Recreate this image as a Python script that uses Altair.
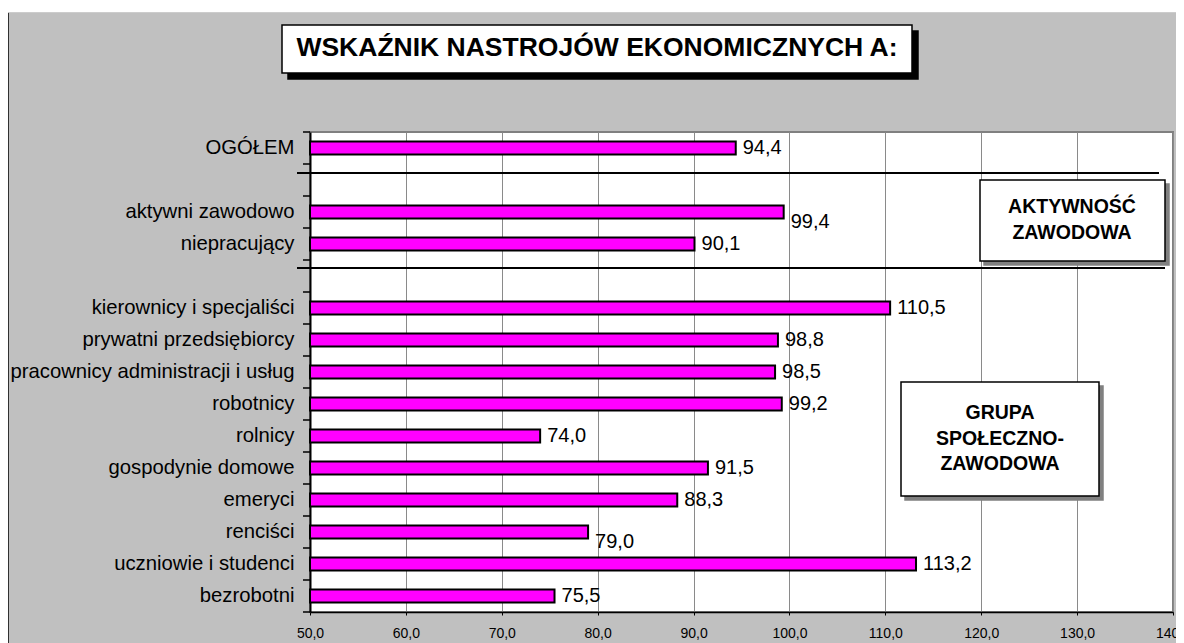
import altair as alt
import pandas as pd

# ---- data ----
categories = ["OGÓŁEM", "aktywni zawodowo", "niepracujący",
              "kierownicy i specjaliści", "prywatni przedsiębiorcy",
              "pracownicy administracji i usług", "robotnicy", "rolnicy",
              "gospodynie domowe", "emeryci", "renciści",
              "uczniowie i studenci", "bezrobotni"]
values = [94.4, 99.4, 90.1, 110.5, 98.8, 98.5, 99.2, 74.0, 91.5, 88.3, 79.0, 113.2, 75.5]
axis_order = ["OGÓŁEM", " ", "aktywni zawodowo", "niepracujący", "  ",
              "kierownicy i specjaliści", "prywatni przedsiębiorcy",
              "pracownicy administracji i usług", "robotnicy", "rolnicy",
              "gospodynie domowe", "emeryci", "renciści",
              "uczniowie i studenci", "bezrobotni"]
shifted = ["aktywni zawodowo", "renciści"]
x_ticks = [50, 60, 70, 80, 90, 100, 110, 120, 130, 140]
title_text = "WSKAŹNIK NASTROJÓW EKONOMICZNYCH A:"
box1_lines = ["AKTYWNOŚĆ", "ZAWODOWA"]
box2_lines = ["GRUPA", "SPOŁECZNO-", "ZAWODOWA"]

FONT = "Liberation Sans"
W, H = 863, 480
STEP = H / len(axis_order)

df = pd.DataFrame({
    "kat": categories,
    "wart": values,
    "etykieta": [f"{v:.1f}".replace(".", ",") for v in values],
})
df["przes"] = df["kat"].isin(shifted)

xs = alt.X("wart:Q", scale=alt.Scale(domain=[50, 140], nice=False, zero=False),
           axis=alt.Axis(values=x_ticks, grid=True, gridColor="#8a8a8a", gridWidth=1,
                         domainColor="black", domainWidth=1.5, tickColor="black",
                         tickSize=3, labelFontSize=14, labelFont=FONT, labelColor="black",
                         labelPadding=11, labelOverlap=False, labelFlush=False,
                         labelExpr="replace(format(datum.value, '.1f'), '.', ',')",
                         title=None))
ys = alt.Y("kat:N", sort=axis_order,
           scale=alt.Scale(domain=axis_order, paddingInner=0.59, paddingOuter=0.295),
           axis=alt.Axis(grid=False, domainColor="black", domainWidth=2, ticks=False,
                         labelFontSize=20.3, labelFont=FONT, labelColor="black",
                         labelPadding=16, labelLimit=400, title=None))

base = alt.Chart(df)
bars = base.mark_bar(color="#FF00FF", stroke="black", strokeWidth=2).encode(
    x=xs, x2=alt.datum(50), y=ys)
lab = base.transform_filter("!datum.przes").mark_text(
    align="left", baseline="middle", dx=7, font=FONT, fontSize=20, color="black"
).encode(x="wart:Q", y=alt.Y("kat:N", sort=axis_order), text="etykieta:N")
lab2 = base.transform_filter("datum.przes").mark_text(
    align="left", baseline="middle", dx=7, dy=10, font=FONT, fontSize=20, color="black"
).encode(x="wart:Q", y=alt.Y("kat:N", sort=axis_order), text="etykieta:N")

# y-axis tick marks at the slot boundaries (pixels from the plot top)
ticks_df = pd.DataFrame({"py": [i * STEP for i in range(len(axis_order) + 1)],
                         "px": [-7] * (len(axis_order) + 1), "px2": [0] * (len(axis_order) + 1)})
yticks = alt.Chart(ticks_df).mark_rule(color="black", strokeWidth=1.5).encode(
    x=alt.X("px:Q", scale=None), x2="px2:Q", y=alt.Y("py:Q", scale=None),
)

# decorations: pixel positions relative to the plot area origin
rects = pd.DataFrame({
    "px": [-310, -22, -28, 674, 670, 595, 591],
    "px2": [900, 608, 602, 859, 855, 793, 789],
    "py": [-130, -101, -107, 52, 48, 254, 250],
    "py2": [-120, -53, -59, 133, 129, 368, 364],
    "kol": ["white", "black", "white", "#808080", "white", "#808080", "white"],
    "obr": ["white", "black", "black", "#808080", "black", "#808080", "black"],
    "k": list(range(7)),
})
rect_layer = alt.Chart(rects).mark_rect(strokeWidth=1.5).encode(
    x=alt.X("px:Q", scale=None), x2="px2:Q",
    y=alt.Y("py:Q", scale=None), y2="py2:Q",
    fill=alt.Fill("kol:N", scale=None),
    stroke=alt.Stroke("obr:N", scale=None),
    order="k:Q",
)

frame_df = pd.DataFrame({"px": [-302], "px2": [900], "py": [-120], "py2": [560]})
frame = alt.Chart(frame_df).mark_rect(fillOpacity=0, stroke="black", strokeWidth=1.5).encode(
    x=alt.X("px:Q", scale=None), x2="px2:Q",
    y=alt.Y("py:Q", scale=None), y2="py2:Q",
)

lines_df = pd.DataFrame({"px": [-13, -13], "px2": [849, 855], "py": [41, 136]})
sep = alt.Chart(lines_df).mark_rule(color="black", strokeWidth=2).encode(
    x=alt.X("px:Q", scale=None), x2="px2:Q", y=alt.Y("py:Q", scale=None),
)

texts = pd.DataFrame({
    "t": [title_text] + box1_lines + box2_lines,
    "px": [287, 762, 762, 690, 690, 690],
    "py": [-84, 75, 101, 281, 307, 332],
    "fs": [26.5, 19.5, 19.5, 19.5, 19.5, 19.5],
})
text_layer = alt.Chart(texts).mark_text(
    font=FONT, fontWeight="bold", align="center", baseline="middle", color="black"
).encode(
    x=alt.X("px:Q", scale=None), y=alt.Y("py:Q", scale=None), text="t:N",
    size=alt.Size("fs:Q", scale=None),
)

chart = alt.layer(
    bars, lab, lab2, yticks, frame, rect_layer, text_layer, sep
).properties(
    width=W, height=H,
    autosize=alt.AutoSizeParams(type="none"),
    padding={"left": 302, "top": 124, "right": 3, "bottom": 31},
    background="#C0C0C0",
).configure_view(
    fill="white", stroke="#808080", strokeWidth=2
)

chart.save("out.html", embed_options={"renderer": "svg", "actions": False})
